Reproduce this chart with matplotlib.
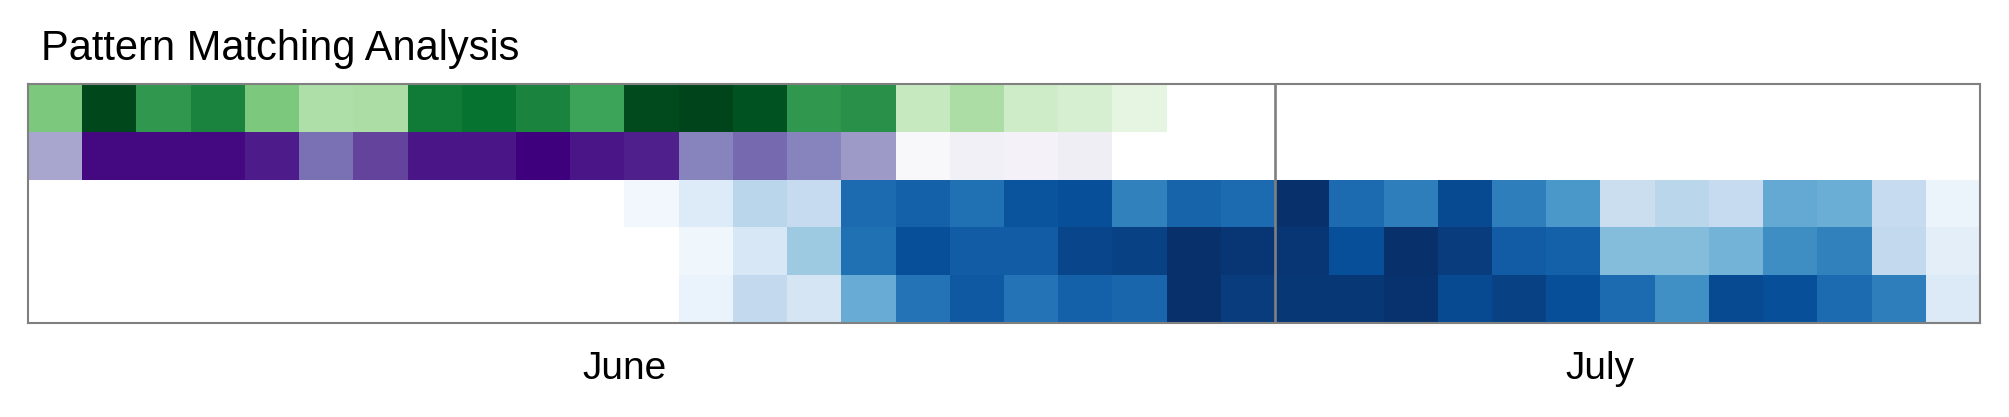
import numpy as np
import matplotlib.pyplot as plt

plt.rcParams['font.family'] = 'Liberation Sans'

WIDTH = 20.09
HEIGHT = 4.17
DPI = 100
nan = np.nan

months = ["June", "July"]
days_per_month = [23, 13]

# one list per row, values read off the colour scale (0..1), nan = no data
green_row = [0.48, 0.99, 0.70, 0.78, 0.48, 0.33, 0.34, 0.82, 0.85, 0.78, 0.65, 0.98,
             1.00, 0.95, 0.70, 0.73, 0.25, 0.34, 0.22, 0.19, 0.12, nan, nan,
             nan, nan, nan, nan, nan, nan, nan, nan, nan, nan, nan, nan, nan]
purple_row = [0.46, 0.97, 0.97, 0.97, 0.91, 0.66, 0.79, 0.93, 0.93, 1.00, 0.93, 0.90,
              0.60, 0.68, 0.60, 0.50, 0.04, 0.10, 0.08, 0.12, nan, nan, nan,
              nan, nan, nan, nan, nan, nan, nan, nan, nan, nan, nan, nan, nan]
blue_row_a = [nan, nan, nan, nan, nan, nan, nan, nan, nan, nan, nan, 0.03,
              0.13, 0.29, 0.25, 0.77, 0.81, 0.75, 0.86, 0.88, 0.69, 0.80, 0.77,
              1.00, 0.77, 0.70, 0.90, 0.70, 0.60, 0.23, 0.29, 0.25, 0.52, 0.50, 0.25, 0.06]
blue_row_b = [nan, nan, nan, nan, nan, nan, nan, nan, nan, nan, nan, nan,
              0.04, 0.16, 0.375, 0.75, 0.88, 0.83, 0.83, 0.92, 0.93, 1.00, 0.98,
              0.98, 0.88, 1.00, 0.95, 0.83, 0.81, 0.44, 0.44, 0.48, 0.64, 0.69, 0.26, 0.10]
blue_row_c = [nan, nan, nan, nan, nan, nan, nan, nan, nan, nan, nan, nan,
              0.07, 0.26, 0.17, 0.51, 0.74, 0.84, 0.74, 0.81, 0.79, 1.00, 0.95,
              0.97, 0.97, 0.99, 0.90, 0.93, 0.88, 0.77, 0.63, 0.90, 0.88, 0.77, 0.70, 0.14]

rows = [(green_row, 'Greens'), (purple_row, 'Purples'),
        (blue_row_a, 'Blues'), (blue_row_b, 'Blues'), (blue_row_c, 'Blues')]

fig = plt.figure(figsize=(WIDTH, HEIGHT), dpi=DPI)
ax = fig.add_axes([28 / 2009, 1 - 323 / 417, 1952 / 2009, 239 / 417])

n_days = len(green_row)
x_edges = np.arange(n_days + 1)
for i, (vals, cmap) in enumerate(rows):
    ax.pcolormesh(x_edges, [i, i + 1], np.ma.masked_invalid([vals]), cmap=cmap,
                  vmin=0, vmax=1, antialiased=False, linewidth=0)

# month separator and month labels in the middle of each month
starts = np.cumsum([0] + days_per_month[:-1])
centers = [s + (n - 1) / 2 for s, n in zip(starts, days_per_month)]
for s in starts[1:]:
    ax.axvline(s, color='#808080', linewidth=1.9)

ax.set_xlim(0, n_days)
ax.set_ylim(len(rows), 0)
ax.set_yticks([])
ax.set_xticks(centers, months, fontsize=28)
ax.tick_params(axis='x', length=0, pad=20)
for sp in ax.spines.values():
    sp.set_color('#808080')
    sp.set_linewidth(1.5)

fig.text(41 / 2009, 1 - 60 / 417, "Pattern Matching Analysis", fontsize=30,
         ha='left', va='baseline')

fig.savefig('out.png', dpi=DPI)
